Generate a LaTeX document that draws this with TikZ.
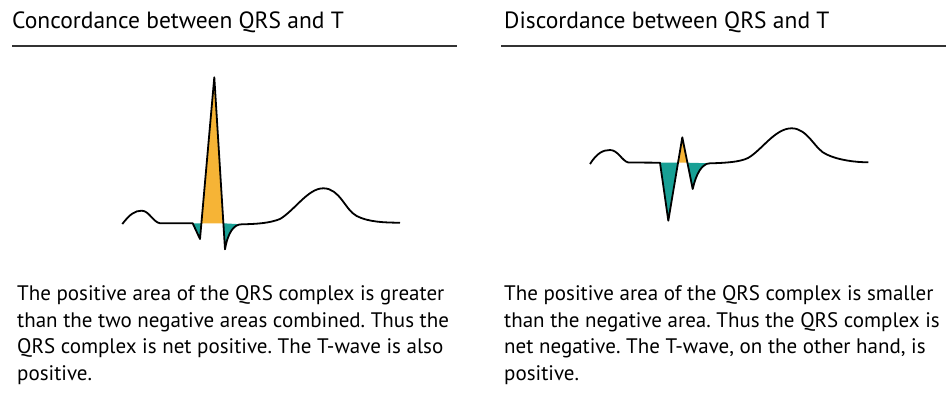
\documentclass[tikz,border=0pt]{standalone}
\usepackage{fontspec}
\setmainfont{PT Sans}
\frenchspacing
\definecolor{areapos}{HTML}{F6B436}
\definecolor{areaneg}{HTML}{18A095}
\definecolor{regla}{HTML}{333333}
\begin{document}
\begin{tikzpicture}[
    x=1pt, y=-1pt,
    titulo/.style={anchor=base west, inner sep=0pt, font=\fontsize{23.5}{28}\selectfont, text=black},
    texto/.style={anchor=base west, inner sep=0pt, align=left, font=\fontsize{21}{26.5}\selectfont, text=black},
    linea/.style={draw=regla, line width=1.6pt},
    onda/.style={draw=black, line width=1.8pt, line join=round},
]
\useasboundingbox (0,0) rectangle (946,393);

\node (concord) [titulo] at (12,29) {Concordance between QRS and T};
\node (discord) [titulo] at (504,29) {Discordance between QRS and T};
\draw [linea] (12,46) -- (457,46);
\draw [linea] (501,46) -- (946,46);

\fill [areaneg] (192.7,223.3) -- (200,239) -- (201.4,223.3) -- cycle;
\fill [areapos] (201.4,223.3) -- (214.3,77.3) -- (223.4,223.3) -- cycle;
\fill [areaneg] (223.4,223.3) -- (225,249.3) .. controls (228,232) and (234,224.3) .. (241.7,224.3) -- cycle;
\draw [onda] (122.3,224) .. controls (130,214) and (135,210.7) .. (141.7,210.7) .. controls (149,210.7) and (153,222) .. (160,223.3) -- (192.7,223.3) -- (200,239) -- (214.3,77.3) -- (225,249.3) .. controls (228,232) and (234,224.3) .. (241.7,224.3) .. controls (258,224) and (270,223) .. (280,219) .. controls (295,210) and (308,188.3) .. (323.3,188.3) .. controls (340,188.3) and (345,210) .. (356.7,216) .. controls (368,222) and (385,222.7) .. (400,222.7);

\fill [areaneg] (660,162.7) -- (668.3,220.7) -- (678,162.7) -- cycle;
\fill [areapos] (678,162.7) -- (682.3,137.3) -- (687.4,162.7) -- cycle;
\fill [areaneg] (687.4,162.7) -- (692.7,189) .. controls (696,174) and (702,163.3) .. (710,163.3) -- cycle;
\draw [onda] (590,164) .. controls (597,153) and (603,150) .. (610,150) .. controls (618,150) and (622,161) .. (628.3,162.5) -- (660,162.7) -- (668.3,220.7) -- (682.3,137.3) -- (692.7,189) .. controls (696,174) and (702,163.3) .. (710,163.3) .. controls (725,163) and (740,162) .. (748,158) .. controls (762,150) and (775,128.3) .. (791.7,128.3) .. controls (808,128.3) and (815,150) .. (826.7,154.5) .. controls (838,160) and (855,162.3) .. (868.3,162.3);

\node (textconcord) [texto] at (17,380) {The positive area of the QRS complex is greater\\ than the two negative areas combined. Thus the\\ QRS complex is net positive. The T-wave is also\\ positive.};
\node (textdiscord) [texto] at (504,380) {The positive area of the QRS complex is smaller\\ than the negative area. Thus the QRS complex is\\ net negative. The T-wave, on the other hand, is\\ positive.};

\end{tikzpicture}
\end{document}
